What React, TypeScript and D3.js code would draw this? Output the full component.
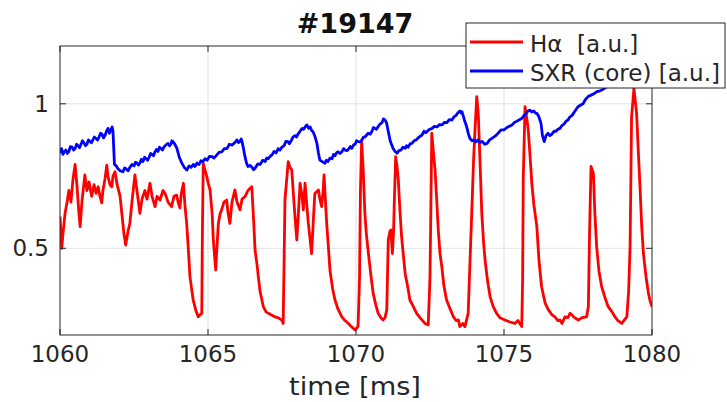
import React from "react";
import * as d3 from "d3";

const title = "#19147";
const xLabel = "time [ms]";
const legendLabels = ["H\u03b1  [a.u.]", "SXR (core) [a.u.]"];
const xTicks = [1060, 1065, 1070, 1075, 1080];
const yTicks = [0.5, 1];

const haTime = [
  1060.0, 1060.06, 1060.1, 1060.17, 1060.24, 1060.3, 1060.37, 1060.44, 1060.51, 1060.57, 1060.64, 1060.68, 1060.74, 1060.84, 1060.91, 1060.98,
  1061.07, 1061.15, 1061.22, 1061.29, 1061.35, 1061.41, 1061.45, 1061.52, 1061.58, 1061.62, 1061.69, 1061.75, 1061.79, 1061.86, 1061.93,
  1062.03, 1062.09, 1062.16, 1062.22, 1062.3, 1062.36, 1062.43, 1062.53, 1062.6, 1062.7, 1062.77, 1062.87, 1062.94,
  1063.04, 1063.11, 1063.21, 1063.28, 1063.38, 1063.48, 1063.55, 1063.65, 1063.77, 1063.85, 1063.94, 1063.99,
  1064.05, 1064.1, 1064.17, 1064.22, 1064.28, 1064.34, 1064.39, 1064.46, 1064.5, 1064.59, 1064.67, 1064.73, 1064.79, 1064.81, 1064.84, 1064.9, 1064.96,
  1065.02, 1065.07, 1065.14, 1065.18, 1065.26, 1065.3, 1065.35, 1065.41, 1065.46, 1065.54, 1065.63, 1065.68, 1065.74, 1065.81, 1065.91, 1065.98,
  1066.08, 1066.15, 1066.25, 1066.35, 1066.48, 1066.54, 1066.59, 1066.66, 1066.7, 1066.76, 1066.87, 1066.96,
  1067.04, 1067.13, 1067.26, 1067.36, 1067.49, 1067.54, 1067.57, 1067.6, 1067.71, 1067.77, 1067.83, 1067.89, 1067.94,
  1068.0, 1068.06, 1068.11, 1068.18, 1068.22, 1068.28, 1068.33, 1068.39, 1068.45, 1068.5, 1068.56, 1068.61, 1068.73, 1068.78, 1068.84, 1068.89, 1068.92, 1068.97,
  1069.01, 1069.07, 1069.12, 1069.21, 1069.29, 1069.39, 1069.52, 1069.63, 1069.74, 1069.83, 1069.97,
  1070.07, 1070.12, 1070.15, 1070.19, 1070.24, 1070.3, 1070.35, 1070.42, 1070.51, 1070.58, 1070.68, 1070.75, 1070.84, 1070.92, 1070.98,
  1071.04, 1071.09, 1071.15, 1071.18, 1071.23, 1071.27, 1071.29, 1071.34, 1071.39, 1071.43, 1071.49, 1071.54, 1071.66, 1071.76, 1071.82, 1071.93,
  1072.05, 1072.16, 1072.33, 1072.44, 1072.5, 1072.56, 1072.6, 1072.67, 1072.72, 1072.78, 1072.84, 1072.9, 1072.97,
  1073.06, 1073.18, 1073.29, 1073.38, 1073.46, 1073.51, 1073.61, 1073.68, 1073.79, 1073.85, 1073.91, 1073.97,
  1074.02, 1074.08, 1074.13, 1074.19, 1074.25, 1074.31, 1074.36, 1074.44, 1074.53, 1074.63, 1074.75, 1074.86,
  1075.03, 1075.2, 1075.37, 1075.47, 1075.6, 1075.63, 1075.65, 1075.71, 1075.77, 1075.82, 1075.88, 1075.94,
  1076.01, 1076.11, 1076.18, 1076.27, 1076.39, 1076.5, 1076.62, 1076.72, 1076.82, 1076.89, 1076.96,
  1077.06, 1077.16, 1077.23, 1077.36, 1077.51, 1077.64, 1077.79, 1077.85, 1077.89, 1077.94,
  1078.02, 1078.07, 1078.13, 1078.21, 1078.3, 1078.41, 1078.52, 1078.65, 1078.75, 1078.85, 1078.98,
  1079.05, 1079.15, 1079.21, 1079.26, 1079.31, 1079.39, 1079.48, 1079.54, 1079.6, 1079.65, 1079.71, 1079.8, 1079.88, 1079.93, 1080.0,
];

const haValue = [
  0.61, 0.5, 0.55, 0.62, 0.66, 0.7, 0.66, 0.74, 0.79, 0.72, 0.62, 0.575, 0.66, 0.754, 0.7, 0.73,
  0.68, 0.72, 0.69, 0.713, 0.68, 0.657, 0.7, 0.74, 0.788, 0.75, 0.72, 0.713, 0.75, 0.765, 0.72,
  0.68, 0.62, 0.55, 0.511, 0.56, 0.586, 0.66, 0.754, 0.7, 0.621, 0.67, 0.7, 0.67,
  0.725, 0.68, 0.644, 0.68, 0.667, 0.7, 0.69, 0.66, 0.644, 0.68, 0.684, 0.66,
  0.64, 0.69, 0.725, 0.65, 0.586, 0.49, 0.402, 0.35, 0.321, 0.285, 0.263, 0.27, 0.275, 0.55, 0.794, 0.77, 0.748,
  0.72, 0.702, 0.62, 0.529, 0.425, 0.5, 0.586, 0.62, 0.633, 0.66, 0.667, 0.62, 0.586, 0.66, 0.702, 0.66,
  0.633, 0.67, 0.679, 0.7, 0.713, 0.6, 0.494, 0.44, 0.402, 0.35, 0.298, 0.28,
  0.275, 0.27, 0.263, 0.26, 0.252, 0.24, 0.45, 0.667, 0.8, 0.78, 0.771, 0.68, 0.609,
  0.529, 0.63, 0.725, 0.68, 0.633, 0.725, 0.66, 0.586, 0.53, 0.482, 0.6, 0.69, 0.702, 0.67, 0.644, 0.7, 0.754, 0.66,
  0.586, 0.5, 0.425, 0.36, 0.321, 0.29, 0.263, 0.25, 0.24, 0.23, 0.217,
  0.23, 0.4, 0.7, 0.87, 0.78, 0.621, 0.55, 0.482, 0.4, 0.344, 0.3, 0.275, 0.26, 0.252, 0.26,
  0.287, 0.529, 0.56, 0.563, 0.482, 0.56, 0.644, 0.817, 0.78, 0.736, 0.62, 0.54, 0.413, 0.36, 0.321, 0.3,
  0.275, 0.26, 0.24, 0.235, 0.4, 0.898, 0.85, 0.771, 0.68, 0.563, 0.48, 0.436, 0.37,
  0.321, 0.29, 0.263, 0.25, 0.252, 0.229, 0.24, 0.229, 0.275, 0.45, 0.621, 0.8,
  0.909, 1.025, 0.967, 0.8, 0.621, 0.52, 0.46, 0.39, 0.333, 0.3, 0.275, 0.26,
  0.252, 0.245, 0.24, 0.25, 0.229, 0.4, 0.736, 0.99, 0.95, 0.909, 0.82, 0.725,
  0.65, 0.575, 0.46, 0.367, 0.31, 0.287, 0.27, 0.263, 0.25, 0.252, 0.24,
  0.263, 0.26, 0.275, 0.262, 0.252, 0.26, 0.263, 0.298, 0.55, 0.783,
  0.759, 0.62, 0.506, 0.42, 0.367, 0.33, 0.298, 0.28, 0.263, 0.25, 0.24,
  0.25, 0.263, 0.35, 0.506, 0.955, 1.053, 0.967, 0.83, 0.702, 0.58, 0.482, 0.4, 0.344, 0.32, 0.298,
];

const sxrTime = [
  1060.0, 1060.05, 1060.1, 1060.15, 1060.2, 1060.25, 1060.3, 1060.35, 1060.41, 1060.46, 1060.51, 1060.56, 1060.61, 1060.66, 1060.71, 1060.76,
  1060.81, 1060.86, 1060.91, 1060.96, 1061.01, 1061.06, 1061.11, 1061.16, 1061.22, 1061.27, 1061.32, 1061.37, 1061.42, 1061.47, 1061.52, 1061.57,
  1061.62, 1061.67, 1061.72, 1061.76, 1061.79, 1061.84, 1061.9, 1061.96, 1062.04, 1062.13, 1062.18, 1062.23, 1062.3, 1062.36, 1062.43, 1062.5,
  1062.55, 1062.6, 1062.65, 1062.7, 1062.75, 1062.8, 1062.86, 1062.91, 1062.96, 1063.01, 1063.06, 1063.11, 1063.16, 1063.21, 1063.26, 1063.31,
  1063.36, 1063.41, 1063.46, 1063.51, 1063.58, 1063.65, 1063.7, 1063.75, 1063.78, 1063.82, 1063.88, 1063.95, 1064.03, 1064.12, 1064.2, 1064.29,
  1064.36, 1064.43, 1064.5, 1064.56, 1064.63, 1064.7, 1064.76, 1064.83, 1064.9, 1064.97, 1065.05, 1065.14, 1065.2, 1065.27, 1065.37, 1065.47,
  1065.55, 1065.64, 1065.72, 1065.81, 1065.9, 1065.98, 1066.03, 1066.08, 1066.12, 1066.15, 1066.2, 1066.25, 1066.3, 1066.35, 1066.42, 1066.49,
  1066.54, 1066.59, 1066.68, 1066.76, 1066.85, 1066.93, 1066.98, 1067.03, 1067.1, 1067.16, 1067.23, 1067.3, 1067.37, 1067.43, 1067.5, 1067.57,
  1067.63, 1067.7, 1067.75, 1067.8, 1067.87, 1067.94, 1067.99, 1068.04, 1068.11, 1068.18, 1068.23, 1068.28, 1068.34, 1068.4, 1068.45, 1068.5,
  1068.55, 1068.62, 1068.68, 1068.73, 1068.78, 1068.86, 1068.95, 1069.0, 1069.05, 1069.12, 1069.19, 1069.24, 1069.29, 1069.34, 1069.39, 1069.46,
  1069.53, 1069.58, 1069.63, 1069.7, 1069.76, 1069.81, 1069.86, 1069.92, 1069.97, 1070.02, 1070.07, 1070.14, 1070.2, 1070.25, 1070.3, 1070.36,
  1070.41, 1070.48, 1070.54, 1070.59, 1070.64, 1070.69, 1070.74, 1070.81, 1070.88, 1070.93, 1070.98, 1071.03, 1071.08, 1071.16, 1071.25, 1071.32,
  1071.39, 1071.45, 1071.52, 1071.59, 1071.66, 1071.71, 1071.76, 1071.83, 1071.89, 1071.96, 1072.03, 1072.13, 1072.23, 1072.3, 1072.36, 1072.46,
  1072.57, 1072.65, 1072.74, 1072.82, 1072.91, 1072.99, 1073.07, 1073.15, 1073.24, 1073.31, 1073.38, 1073.45, 1073.51, 1073.55, 1073.58, 1073.66,
  1073.74, 1073.8, 1073.85, 1073.92, 1073.99, 1074.05, 1074.12, 1074.19, 1074.26, 1074.35, 1074.43, 1074.51, 1074.59, 1074.7, 1074.8, 1074.9,
  1075.0, 1075.13, 1075.27, 1075.35, 1075.44, 1075.52, 1075.61, 1075.68, 1075.74, 1075.81, 1075.88, 1075.94, 1076.01, 1076.06, 1076.11, 1076.18,
  1076.25, 1076.3, 1076.36, 1076.42, 1076.49, 1076.55, 1076.62, 1076.69, 1076.76, 1076.82, 1076.89, 1076.96, 1077.03, 1077.1, 1077.16, 1077.23,
  1077.3, 1077.4, 1077.5, 1077.58, 1077.67, 1077.75, 1077.84, 1077.94, 1078.04, 1078.14, 1078.24, 1078.31, 1078.58, 1078.92, 1079.26, 1079.59,
  1080.0,
];

const sxrValue = [
  0.83, 0.845, 0.825, 0.835, 0.84, 0.828, 0.835, 0.852, 0.85, 0.84, 0.845, 0.86, 0.855, 0.848, 0.86, 0.872,
  0.865, 0.855, 0.86, 0.875, 0.87, 0.865, 0.875, 0.885, 0.88, 0.875, 0.885, 0.898, 0.895, 0.882, 0.89, 0.905,
  0.915, 0.898, 0.91, 0.92, 0.905, 0.79, 0.785, 0.775, 0.768, 0.765, 0.778, 0.775, 0.768, 0.78, 0.79, 0.785,
  0.798, 0.795, 0.788, 0.795, 0.808, 0.8, 0.815, 0.81, 0.805, 0.815, 0.828, 0.825, 0.82, 0.834, 0.842, 0.835,
  0.85, 0.845, 0.84, 0.85, 0.858, 0.863, 0.855, 0.86, 0.872, 0.869, 0.86, 0.846, 0.815, 0.794, 0.78, 0.771,
  0.785, 0.78, 0.79, 0.783, 0.795, 0.79, 0.803, 0.8, 0.81, 0.805, 0.818, 0.817, 0.812, 0.82, 0.832, 0.834,
  0.845, 0.845, 0.86, 0.857, 0.865, 0.875, 0.866, 0.87, 0.878, 0.869, 0.845, 0.817, 0.795, 0.783, 0.787, 0.78,
  0.772, 0.777, 0.792, 0.79, 0.805, 0.8, 0.812, 0.81, 0.818, 0.823, 0.835, 0.83, 0.845, 0.84, 0.85, 0.855,
  0.87, 0.869, 0.862, 0.87, 0.885, 0.89, 0.885, 0.895, 0.905, 0.915, 0.912, 0.92, 0.927, 0.915, 0.92, 0.908,
  0.903, 0.885, 0.863, 0.83, 0.805, 0.8, 0.794, 0.805, 0.8, 0.812, 0.81, 0.825, 0.82, 0.83, 0.834, 0.828,
  0.835, 0.845, 0.84, 0.838, 0.845, 0.852, 0.846, 0.858, 0.86, 0.872, 0.869, 0.868, 0.875, 0.885, 0.885, 0.892,
  0.898, 0.895, 0.905, 0.918, 0.915, 0.912, 0.92, 0.93, 0.935, 0.948, 0.944, 0.935, 0.909, 0.87, 0.846, 0.835,
  0.829, 0.838, 0.84, 0.85, 0.846, 0.855, 0.85, 0.862, 0.863, 0.872, 0.875, 0.885, 0.892, 0.905, 0.9, 0.91,
  0.915, 0.922, 0.92, 0.928, 0.927, 0.936, 0.935, 0.945, 0.944, 0.955, 0.96, 0.97, 0.975, 0.968, 0.973, 0.945,
  0.92, 0.895, 0.88, 0.872, 0.875, 0.868, 0.875, 0.866, 0.87, 0.86, 0.863, 0.875, 0.88, 0.888, 0.898, 0.91,
  0.91, 0.92, 0.927, 0.935, 0.94, 0.945, 0.95, 0.96, 0.965, 0.975, 0.978, 0.972, 0.975, 0.968, 0.967, 0.955,
  0.932, 0.89, 0.869, 0.89, 0.898, 0.89, 0.895, 0.905, 0.905, 0.912, 0.915, 0.925, 0.93, 0.94, 0.944, 0.955,
  0.96, 0.975, 0.99, 0.995, 1.0, 1.015, 1.025, 1.03, 1.035, 1.042, 1.045, 1.048, 1.065, 1.08, 1.09, 1.1,
  1.11,
];

const W = 727;
const H = 402;
const M = { left: 60, right: 652, top: 46, bottom: 335 };
const FONT = "'DejaVu Sans', sans-serif";
const AX = "#262626";
const RED = "#ff0000";
const BLUE = "#0000ff";

export default function App() {
  const x = d3.scaleLinear().domain([1060, 1080]).range([M.left, M.right]);
  const y = d3.scaleLinear().domain([0.2, 1.2]).range([M.bottom, M.top]);

  const line = d3
    .line<[number, number]>()
    .x((d) => x(d[0]))
    .y((d) => y(d[1]));

  const haPts = haTime.map((t, i) => [t, haValue[i]] as [number, number]);
  const sxrPts = sxrTime.map((t, i) => [t, sxrValue[i]] as [number, number]);

  const tickLen = 6;

  return (
    <svg
      width={W}
      height={H}
      style={{ position: "absolute", left: 0, top: 0, background: "#fff" }}
      fontFamily={FONT}
    >
      <defs>
        <clipPath id="plotClip">
          <rect x={M.left} y={M.top} width={M.right - M.left} height={M.bottom - M.top} />
        </clipPath>
      </defs>
      <rect x={0} y={0} width={W} height={H} fill="#fff" />

      {/* grid */}
      {xTicks
        .filter((t) => t > 1060 && t < 1080)
        .map((t) => (
          <line key={"gx" + t} x1={x(t)} x2={x(t)} y1={M.top} y2={M.bottom} stroke="#e3e3e3" strokeWidth={1} />
        ))}
      {yTicks.map((v) => (
        <line key={"gy" + v} x1={M.left} x2={M.right} y1={y(v)} y2={y(v)} stroke="#e3e3e3" strokeWidth={1} />
      ))}

      {/* data */}
      <g clipPath="url(#plotClip)">
        <path d={line(haPts) || ""} fill="none" stroke={RED} strokeWidth={2.8} strokeLinejoin="round" />
        <path d={line(sxrPts) || ""} fill="none" stroke={BLUE} strokeWidth={2.8} strokeLinejoin="round" />
      </g>

      {/* box */}
      <rect
        x={M.left}
        y={M.top}
        width={M.right - M.left}
        height={M.bottom - M.top}
        fill="none"
        stroke={AX}
        strokeWidth={1}
      />

      {/* ticks */}
      {xTicks.map((t) => (
        <g key={"tx" + t}>
          <line x1={x(t)} x2={x(t)} y1={M.bottom} y2={M.bottom - tickLen} stroke={AX} />
          <line x1={x(t)} x2={x(t)} y1={M.top} y2={M.top + tickLen} stroke={AX} />
          <text x={x(t)} y={362} textAnchor="middle" fontSize={23} fill={AX}>
            {t}
          </text>
        </g>
      ))}
      {yTicks.map((v) => (
        <g key={"ty" + v}>
          <line x1={M.left} x2={M.left + tickLen} y1={y(v)} y2={y(v)} stroke={AX} />
          <line x1={M.right} x2={M.right - tickLen} y1={y(v)} y2={y(v)} stroke={AX} />
          <text x={49} y={y(v) + 8} textAnchor="end" fontSize={23} fill={AX}>
            {v}
          </text>
        </g>
      ))}

      {/* labels */}
      <text x={355} y={33} textAnchor="middle" fontSize={27} fontWeight="bold" fill="#111">
        {title}
      </text>
      <text
        x={355}
        y={395}
        textAnchor="middle"
        fontSize={25}
        fill={AX}
        textLength={132}
        lengthAdjust="spacingAndGlyphs"
      >
        {xLabel}
      </text>

      {/* legend */}
      <g>
        <rect x={466} y={23} width={259} height={65} fill="#fff" stroke={AX} strokeWidth={1} />
        {legendLabels.map((lab, i) => {
          const ly = i === 0 ? 42 : 71;
          return (
            <g key={lab}>
              <line x1={470} x2={523} y1={ly} y2={ly} stroke={i === 0 ? RED : BLUE} strokeWidth={3} />
              <text x={530} y={ly + 9.5} fontSize={23} fill={AX} style={{ whiteSpace: "pre" }}>
                {lab}
              </text>
            </g>
          );
        })}
      </g>
    </svg>
  );
}
